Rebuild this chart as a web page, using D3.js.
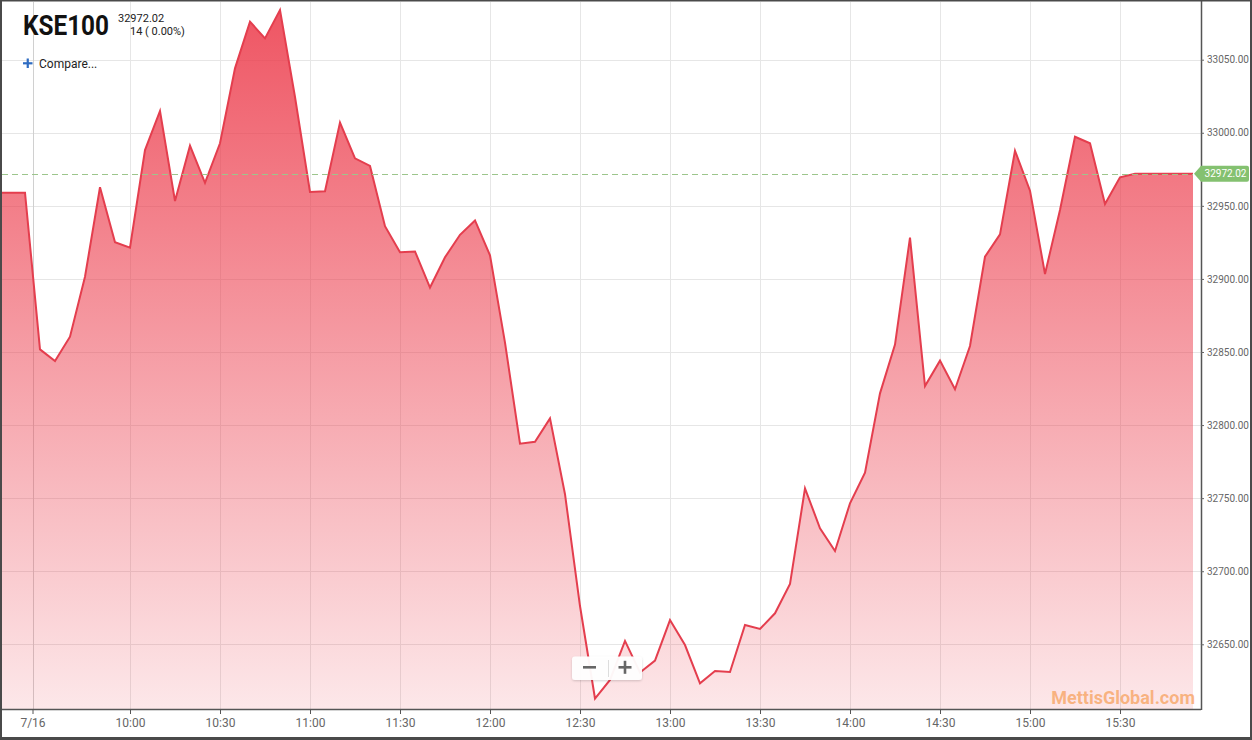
<!DOCTYPE html>
<html>
<head>
<meta charset="utf-8">
<script src="https://cdn.jsdelivr.net/npm/d3@7"></script>
<style>
  html, body { margin: 0; padding: 0; background: #fff; }
  svg { display: block; font-family: Roboto, "Noto Sans", sans-serif; }
</style>
</head>
<body>
<svg id="chart" width="1252" height="740"></svg>
<script>
// ---------------- DATA ----------------
const symbol = "KSE100";
const lastPrice = 32972.02;
const changeText = "14 ( 0.00%)";
const watermark = "MettisGlobal.com";

const times = [
  "09:17:20","09:25","09:30","09:35","09:40","09:45","09:50","09:55",
  "10:00","10:05","10:10","10:15","10:20","10:25","10:30","10:35","10:40","10:45","10:50","10:55",
  "11:00","11:05","11:10","11:15","11:20","11:25","11:30","11:35","11:40","11:45","11:50","11:55",
  "12:00","12:05","12:10","12:15","12:20","12:25","12:30","12:35","12:40","12:45","12:50","12:55",
  "13:00","13:05","13:10","13:15","13:20","13:25","13:30","13:35","13:40","13:45","13:50","13:55",
  "14:00","14:05","14:10","14:15","14:20","14:25","14:30","14:35","14:40","14:45","14:50","14:55",
  "15:00","15:05","15:10","15:15","15:20","15:25","15:30","15:35","15:54:20"
];
const values = [
  32959.0, 32959.0, 32851.8, 32843.8, 32860.5, 32901.5, 32962.7, 32925.1,
  32921.4, 32988.2, 33014.9, 32953.3, 32991.2, 32965.8, 32992.8, 33044.1, 33076.0, 33064.6, 33084.0, 33024.5,
  32959.5, 32960.0, 33007.0, 32982.5, 32977.3, 32936.1, 32918.3, 32918.8, 32894.1, 32914.8, 32930.2, 32940.0,
  32916.2, 32856.4, 32787.3, 32788.6, 32804.6, 32752.7, 32676.2, 32612.9, 32625.6, 32652.3, 32630.7, 32638.9,
  32666.6, 32649.5, 32623.3, 32631.7, 32631.0, 32663.2, 32660.5, 32671.2, 32691.3, 32756.7, 32729.4, 32713.8,
  32746.5, 32767.4, 32821.7, 32855.1, 32928.3, 32826.7, 32844.1, 32824.5, 32854.1, 32915.2, 32930.5, 32987.7,
  32960.4, 32903.4, 32947.2, 32997.3, 32992.8, 32951.3, 32969.5, 32972.02, 32972.02
];

const xTickTimes  = ["09:27:30","10:00","10:30","11:00","11:30","12:00","12:30","13:00","13:30","14:00","14:30","15:00","15:30"];
const xTickLabels = ["7/16","10:00","10:30","11:00","11:30","12:00","12:30","13:00","13:30","14:00","14:30","15:00","15:30"];
const yTickValues = [32650, 32700, 32750, 32800, 32850, 32900, 32950, 33000, 33050];
const xDomainTimes = ["09:17:20", "15:57:00"];
const yDomainValues = [32650, 33050];

// ---------------- SETUP ----------------
const p1 = d3.timeParse("%H:%M:%S"), p2 = d3.timeParse("%H:%M");
const parse = s => p1(s) || p2(s);

const svg = d3.select("#chart");
const W = 1252, H = 740;
const plot = { left: 2, top: 2, right: 1201, bottom: 709 };

const x = d3.scaleTime()
  .domain(xDomainTimes.map(parse))
  .range([plot.left, plot.right]);
const y = d3.scaleLinear()
  .domain(yDomainValues)
  .range([644.3, 59.7]);

const data = times.map((t, i) => ({ t: parse(t), v: values[i] }));

const defs = svg.append("defs");
defs.append("clipPath").attr("id", "plotClip")
  .append("rect")
  .attr("x", plot.left).attr("y", plot.top)
  .attr("width", plot.right - plot.left).attr("height", plot.bottom - plot.top);

const grad = defs.append("linearGradient").attr("id", "areaGrad")
  .attr("gradientUnits", "userSpaceOnUse")
  .attr("x1", 0).attr("x2", 0)
  .attr("y1", y(d3.max(values))).attr("y2", plot.bottom);
grad.append("stop").attr("offset", "0%").attr("stop-color", "rgb(236,58,74)").attr("stop-opacity", 0.86);
grad.append("stop").attr("offset", "100%").attr("stop-color", "rgb(236,58,74)").attr("stop-opacity", 0.12);

const shadow = defs.append("filter").attr("id", "btnShadow")
  .attr("x", "-20%").attr("y", "-30%").attr("width", "140%").attr("height", "160%");
shadow.append("feDropShadow").attr("dx", 0).attr("dy", 1).attr("stdDeviation", 1.2)
  .attr("flood-color", "#000").attr("flood-opacity", 0.18);

// background
svg.append("rect").attr("width", W).attr("height", H).attr("fill", "#fff");

// ---------------- GRID ----------------
const gridG = svg.append("g");
gridG.selectAll("line.h").data(yTickValues).join("line")
  .attr("x1", plot.left).attr("x2", plot.right)
  .attr("y1", d => Math.round(y(d)) + 0.5).attr("y2", d => Math.round(y(d)) + 0.5)
  .attr("stroke", "#e6e6e6").attr("stroke-width", 1);
gridG.selectAll("line.v").data(xTickTimes).join("line")
  .attr("x1", d => Math.round(x(parse(d))) + 0.5).attr("x2", d => Math.round(x(parse(d))) + 0.5)
  .attr("y1", plot.top).attr("y2", plot.bottom)
  .attr("stroke", (d, i) => i === 0 ? "#d0d0d0" : "#e6e6e6").attr("stroke-width", 1);

// ---------------- AREA + LINE ----------------
const area = d3.area().x(d => x(d.t)).y0(plot.bottom).y1(d => y(d.v));
const line = d3.line().x(d => x(d.t)).y(d => y(d.v));

const series = svg.append("g").attr("clip-path", "url(#plotClip)");
series.append("path").datum(data).attr("d", area).attr("fill", "url(#areaGrad)");
series.append("path").datum(data).attr("d", line)
  .attr("fill", "none").attr("stroke", "#e43e4e").attr("stroke-width", 2)
  .attr("stroke-linejoin", "miter");

// last price dashed line
svg.append("line")
  .attr("x1", plot.left).attr("x2", x(data[data.length - 1].t))
  .attr("y1", Math.round(y(lastPrice)) + 0.5).attr("y2", Math.round(y(lastPrice)) + 0.5)
  .attr("stroke", "#9cc58c").attr("stroke-width", 1).attr("stroke-dasharray", "6,4");

// ---------------- AXES ----------------
const xAxis = d3.axisBottom(x)
  .tickValues(xTickTimes.map(parse))
  .tickFormat((d, i) => xTickLabels[i])
  .tickSize(5).tickPadding(4);
const xg = svg.append("g").attr("transform", `translate(0,${plot.bottom})`).call(xAxis);
xg.select(".domain").attr("stroke", "#555").attr("stroke-width", 1.5)
  .attr("d", `M${plot.left},0.5H${plot.right}`);
xg.selectAll(".tick line").attr("stroke", "#555");
xg.selectAll(".tick text").attr("fill", "#666").attr("font-size", 12)
  .attr("font-family", "Roboto, sans-serif");

const yAxis = d3.axisRight(y)
  .tickValues(yTickValues)
  .tickFormat(d3.format(".2f"))
  .tickSize(3).tickPadding(3);
const yg = svg.append("g").attr("transform", `translate(${plot.right},0)`).call(yAxis);
yg.select(".domain").attr("stroke", "#555").attr("stroke-width", 1.5)
  .attr("d", `M0.5,0V${plot.bottom + 1}`);
yg.selectAll(".tick line").attr("stroke", "#666");
yg.selectAll(".tick text").attr("fill", "#666").attr("font-size", 10)
  .attr("font-family", "Roboto, sans-serif");

// last price label
const ly = y(lastPrice);
const lx = x(data[data.length - 1].t) + 1;
const lbl = svg.append("g");
lbl.append("path")
  .attr("d", `M${lx},${ly} L${lx + 7},${ly - 8} H${1247} Q${1249},${ly - 8} ${1249},${ly - 6} V${ly + 6} Q${1249},${ly + 8} ${1247},${ly + 8} H${lx + 7} Z`)
  .attr("fill", "#84c170");
lbl.append("text").attr("x", 1246.5).attr("y", ly + 3.8)
  .attr("text-anchor", "end").attr("fill", "#fff")
  .attr("font-size", 10).attr("font-family", "Roboto, sans-serif")
  .text(d3.format(".2f")(lastPrice));

// ---------------- TITLE ----------------
svg.append("text").attr("x", 23).attr("y", 35)
  .attr("font-size", 27).attr("font-weight", 700)
  .attr("font-family", "Roboto, sans-serif").attr("fill", "#111")
  .attr("textLength", 86).attr("lengthAdjust", "spacingAndGlyphs")
  .text(symbol);
svg.append("text").attr("x", 118).attr("y", 22)
  .attr("font-size", 11).attr("font-family", "Roboto, sans-serif").attr("fill", "#222")
  .text(d3.format(".2f")(lastPrice));
svg.append("text").attr("x", 130).attr("y", 35)
  .attr("font-size", 11).attr("font-family", "Roboto, sans-serif").attr("fill", "#222")
  .text(changeText);

// compare
svg.append("rect").attr("x", 23).attr("y", 62.2).attr("width", 9.5).attr("height", 2.2).attr("fill", "#2f6cc2");
svg.append("rect").attr("x", 26.65).attr("y", 58.5).attr("width", 2.2).attr("height", 9.5).attr("fill", "#2f6cc2");
svg.append("text").attr("x", 39).attr("y", 68)
  .attr("font-size", 12).attr("font-family", "Roboto, sans-serif").attr("fill", "#222")
  .text("Compare...");

// zoom buttons
const zb = svg.append("g");
zb.append("rect").attr("x", 572).attr("y", 656.5).attr("width", 70).attr("height", 23.5)
  .attr("rx", 3).attr("fill", "#fff").attr("fill-opacity", 0.95).attr("filter", "url(#btnShadow)");
zb.append("line").attr("x1", 608.5).attr("x2", 608.5).attr("y1", 660).attr("y2", 677)
  .attr("stroke", "#ddd");
zb.append("rect").attr("x", 583).attr("y", 666).attr("width", 13).attr("height", 2.6).attr("fill", "#666");
zb.append("rect").attr("x", 618.5).attr("y", 666).attr("width", 13).attr("height", 2.6).attr("fill", "#666");
zb.append("rect").attr("x", 623.7).attr("y", 660.8).attr("width", 2.6).attr("height", 13).attr("fill", "#666");

// watermark
svg.append("text").attr("x", 1195).attr("y", 704)
  .attr("text-anchor", "end").attr("font-size", 18).attr("font-weight", 700)
  .attr("font-family", "Roboto, sans-serif").attr("fill", "#f7a25e").attr("fill-opacity", 0.75)
  .text(watermark);

// outer frame
svg.append("rect").attr("x", 1).attr("y", 0.5).attr("width", W - 2).attr("height", H - 2.5)
  .attr("fill", "none").attr("stroke", "#4a4a4a").attr("stroke-width", 2);
svg.append("line").attr("x1", 0).attr("x2", W).attr("y1", H - 1.5).attr("y2", H - 1.5)
  .attr("stroke", "#4a4a4a").attr("stroke-width", 3);
</script>
</body>
</html>
